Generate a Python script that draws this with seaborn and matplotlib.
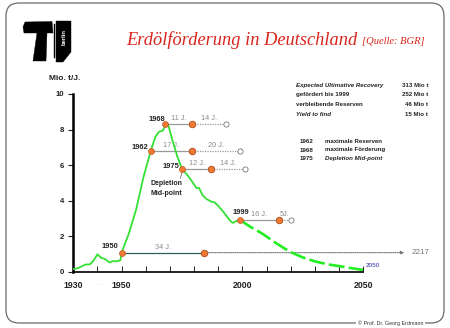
import matplotlib
matplotlib.use("Agg")
import matplotlib.pyplot as plt
import seaborn as sns
import pandas as pd
from matplotlib.patches import FancyBboxPatch, Polygon

# ---------------- data ----------------
hist_years = [1930, 1932, 1935, 1937, 1938.5, 1940, 1941.5, 1943, 1945, 1946.5, 1948, 1949.5,
              1950, 1953, 1956, 1959, 1962, 1964, 1965.5, 1967, 1968.5, 1969.5, 1971, 1973,
              1975, 1976.5, 1978, 1980, 1981, 1982, 1983.5, 1985, 1987, 1988.5, 1990, 1992.5,
              1995, 1996, 1997.5, 1999]
hist_values = [0.15, 0.2, 0.4, 0.42, 0.65, 0.98, 0.78, 0.72, 0.52, 0.6, 0.58, 0.65,
               1.07, 2.16, 3.5, 5.3, 6.79, 7.6, 7.88, 7.94, 8.31, 8.16, 7.41, 6.5,
               5.78, 5.55, 5.3, 4.9, 4.7, 4.72, 4.3, 4.1, 3.95, 3.9, 3.7, 3.3,
               2.85, 2.75, 2.85, 2.91]
fc_years = [1999, 2003, 2008, 2014, 2019.5, 2025, 2030.5, 2036, 2041.5, 2046, 2050]
fc_values = [2.91, 2.55, 2.16, 1.6, 1.13, 0.8, 0.56, 0.4, 0.28, 0.18, 0.1]

ref_years = [1950, 1962, 1968, 1975, 1999]
ref_values = [1.07, 6.79, 8.31, 5.78, 2.91]
life_first = [34, 17, 11, 12, 16]
life_second = [0, 20, 14, 14, 5]
first_labels = ["34 J.", "17 J.", "11 J.", "12 J.", "16 J."]
second_labels = ["", "20 J.", "14 J.", "14 J.", "5J."]

info_labels = ["Expected Ultimative Recovery", "gefördert bis 1999", "verbleibende Reserven", "Yield to find"]
info_values = ["313 Mio t", "252 Mio t", "46 Mio t", "15 Mio t"]
key_years = ["1962", "1968", "1975"]
key_texts = ["maximale Reserven", "maximale Förderung", "Depletion Mid-point"]

x_ticks = [1930, 1940, 1950, 1960, 1970, 1980, 1990, 2000, 2010, 2020, 2030, 2040, 2050]
x_ticklabels = ["1930", "", "1950", "", "", "", "", "2000", "", "", "", "", "2050"]
y_ticks = [0, 2, 4, 6, 8, 10]

# ---------------- style ----------------
sns.set_style("white")
plt.rcParams["font.family"] = ["Liberation Sans", "DejaVu Sans"]

W, H = 450, 328
fig = plt.figure(figsize=(4.5, 3.28), dpi=100)
fig.patch.set_facecolor("white")

def fx(px):
    return px / W

def fy(py):
    return 1 - py / H

# slide border
border = FancyBboxPatch((0.06, 0.05), 4.38, 3.2, boxstyle="round,pad=0,rounding_size=0.13",
                        transform=fig.dpi_scale_trans, fill=False, edgecolor="#6a6a6a", lw=0.9)
fig.patches.append(border)

# logo (TU berlin, approximated)
logo_parts = [
    [(25, 22), (52, 21.5), (53, 33), (47, 33), (46, 61), (33, 61), (37, 33), (24, 33),
     (23, 27)],
    [(56, 21), (71, 21), (71, 52), (63, 62), (56, 62)],
    [(53.5, 24), (55, 24), (55, 58), (53.5, 58)],
]
for pts in logo_parts:
    poly = Polygon([(fx(a), fy(b)) for a, b in pts], closed=True, transform=fig.transFigure,
                   facecolor="black", edgecolor="black", lw=0.3)
    fig.patches.append(poly)
fig.text(fx(64.5), fy(37), "berlin", rotation=90, color="white", fontsize=4.2,
         fontweight="bold", ha="center", va="center")

# title
fig.text(fx(126), fy(40), "Erdölförderung in Deutschland", color="#d9241c", fontsize=13.2,
         family=["Liberation Serif", "DejaVu Serif"], style="italic", ha="left", va="center")
fig.text(fx(362), fy(41), "[Quelle: BGR]", color="#d9241c", fontsize=7.6,
         family=["Liberation Serif", "DejaVu Serif"], style="italic", ha="left", va="center")

# unit label
fig.text(fx(49), fy(78), "Mio. t/J.", fontsize=6, fontweight="bold", color="#222222",
         ha="left", va="center")

# info block
info_y = [85.7, 94.5, 105, 114]
for i, (lab, val) in enumerate(zip(info_labels, info_values)):
    italic = i in (0, 3)
    fig.text(fx(296.5), fy(info_y[i]), lab, fontsize=4.4, fontweight="bold",
             style="italic" if italic else "normal", color="#222222", ha="left", va="center")
    fig.text(fx(428), fy(info_y[i]), val, fontsize=4.4, fontweight="bold", color="#222222",
             ha="right", va="center")
key_y = [141.5, 150, 158.5]
for i, (yr, txt) in enumerate(zip(key_years, key_texts)):
    fig.text(fx(300), fy(key_y[i]), yr, fontsize=4.4, fontweight="bold", color="#222222",
             ha="left", va="center")
    fig.text(fx(325), fy(key_y[i]), txt, fontsize=4.4, fontweight="bold",
             style="italic" if i == 2 else "normal", color="#222222", ha="left", va="center")

# footer
fig.text(fx(358), fy(323.3), "© Prof. Dr. Georg Erdmann", fontsize=3.9, color="#333333",
         ha="left", va="center", bbox=dict(facecolor="white", edgecolor="none", pad=1.2))

# ---------------- axes ----------------
ax = fig.add_axes([fx(73.3), fy(271.7), fx(363.3) - fx(73.3), fy(94) - fy(271.7)])
ax.set_facecolor("none")
ax.set_xlim(1930, 2050)
ax.set_ylim(0, 10)

hist_df = pd.DataFrame({"Jahr": hist_years, "Foerderung": hist_values})
fc_df = pd.DataFrame({"Jahr": fc_years, "Foerderung": fc_values})

# reserve lines
for yr, val, l1, l2, t1, t2 in zip(ref_years, ref_values, life_first, life_second,
                                   first_labels, second_labels):
    mid = yr + l1
    col = "#2f5d5a" if yr == 1950 else "#9a9a9a"
    ax.plot([yr, mid], [val, val], color=col, lw=0.9, zorder=2)
    ax.text(yr + l1 / 2, val + 0.12, t1, fontsize=5.3, color="#8a8a8a", ha="center", va="bottom")
    if l2 > 0:
        end = mid + l2
        ax.plot([mid, end], [val, val], color="#9a9a9a", lw=0.9, ls=(0, (1, 1)), zorder=2)
        ax.text(mid + l2 / 2, val + 0.12, t2, fontsize=5.3, color="#8a8a8a", ha="center",
                va="bottom")
        ax.scatter([end], [val], s=14, facecolor="white", edgecolor="#777777", lw=0.6,
                   zorder=4, clip_on=False)
    else:
        ax.annotate("", xy=(2067, val), xytext=(mid, val),
                    arrowprops=dict(arrowstyle="-|>", color="#777777", lw=0.8, ls=(0, (1, 1)),
                                    mutation_scale=5, shrinkA=0, shrinkB=0),
                    annotation_clip=False)
        ax.text(2070, val, "2217", fontsize=5.8, color="#777777", ha="left", va="center")

mid_df = pd.DataFrame({"Jahr": [y + l for y, l in zip(ref_years, life_first)],
                       "Foerderung": ref_values})

sns.lineplot(data=hist_df, x="Jahr", y="Foerderung", ax=ax, color="#35e035", lw=1.3,
             estimator=None, sort=False, zorder=3)
sns.lineplot(data=fc_df, x="Jahr", y="Foerderung", ax=ax, color="#22ee22", lw=1.9,
             estimator=None, sort=False, zorder=3, dashes=False, linestyle=(0, (6, 1.6)))

ref_df = pd.DataFrame({"Jahr": ref_years, "Foerderung": ref_values})
sns.scatterplot(data=ref_df, x="Jahr", y="Foerderung", ax=ax, s=18, color="#f07a35",
                edgecolor="#c0521c", linewidth=0.5, zorder=5, clip_on=False)
sns.scatterplot(data=mid_df, x="Jahr", y="Foerderung", ax=ax, s=22, color="#f07a35",
                edgecolor="#b04a18", linewidth=0.6, zorder=5)

# year labels
year_label_pos = [(1945.3, 1.42, "center"), (1957.6, 7.0, "center"), (1964.6, 8.55, "center"),
                  (1970.4, 5.9, "center"), (1999.3, 3.35, "center")]
for yr, (lx, ly, ha) in zip(ref_years, year_label_pos):
    ax.text(lx, ly, str(yr), fontsize=5.4, fontweight="bold", color="#222222", ha=ha,
            va="center")

ax.text(1968.6, 4.95, "Depletion", fontsize=5.0, fontweight="bold", color="#222222",
        ha="center", va="center")
ax.text(1968.6, 4.38, "Mid-point", fontsize=5.0, fontweight="bold", color="#222222",
        ha="center", va="center")
ax.plot([1974.3, 1975.0], [5.25, 5.6], color="#555555", lw=0.5)

ax.text(2051, 0.35, "2050", fontsize=4.6, color="#2a2a9a", ha="left", va="center")

# axes styling
for s in ["top", "right"]:
    ax.spines[s].set_visible(False)
ax.spines["left"].set_linewidth(1.8)
ax.spines["left"].set_color("black")
ax.spines["bottom"].set_linewidth(1.2)
ax.spines["bottom"].set_color("black")

ax.set_yticks(y_ticks)
ax.set_yticklabels([str(v) for v in y_ticks])
ax.tick_params(axis="y", direction="out", length=3.5, width=0.8, labelsize=5.6, pad=3,
               colors="#222222", left=True)
ax.set_xticks(x_ticks)
ax.set_xticklabels(x_ticklabels)
ax.tick_params(axis="x", direction="in", length=4, width=0.7, labelsize=6.3, pad=7,
               colors="#222222", bottom=True)
for lab in ax.get_xticklabels() + ax.get_yticklabels():
    lab.set_fontweight("bold")
ax.set_xlabel("")
ax.set_ylabel("")
ax.grid(False)

fig.text(fx(102), fy(284.5), "· · · ·", fontsize=4, color="#bbbbbb", ha="center", va="center")

fig.savefig("out.png", dpi=100, facecolor="white")
